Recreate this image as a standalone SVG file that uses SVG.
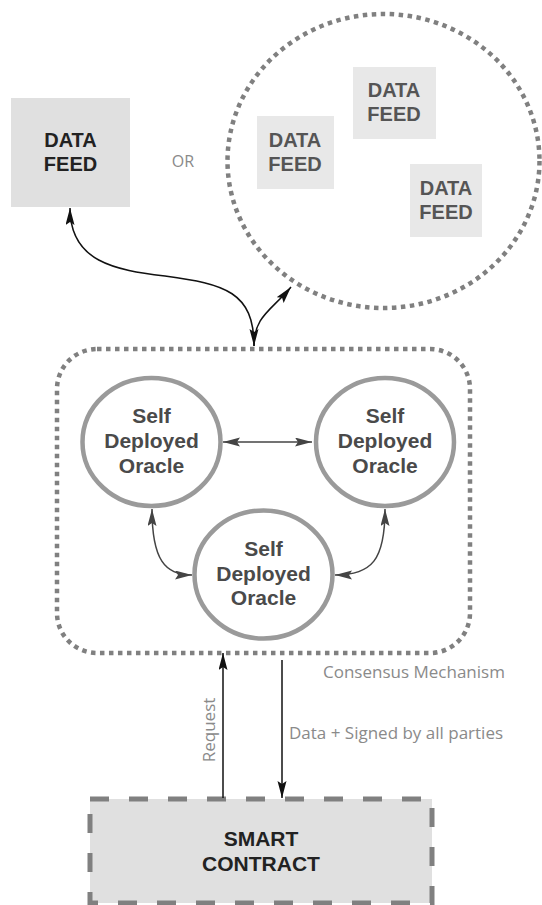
<svg xmlns="http://www.w3.org/2000/svg" width="542" height="905" viewBox="0 0 542 905">
<style>
.feed{fill:#e0e0e0}
.feedin{fill:#e8e8e8}
.bold{font-family:"Liberation Sans",Arial,sans-serif;font-weight:bold;text-anchor:middle}
.lbl{font-family:"Open Sans","Liberation Sans",sans-serif;fill:#8a8a8a;font-size:17px}
.dots{fill:none;stroke:#808080;stroke-width:4.5;stroke-dasharray:4.5 4.5}
.oracle{fill:#fff;stroke:#9a9a9a;stroke-width:4.5}
.conn{fill:none;stroke:#111;stroke-width:1.5}
.conn2{fill:none;stroke:#444;stroke-width:1.5}
</style>
<defs>
<marker id="ah" markerUnits="userSpaceOnUse" markerWidth="18" markerHeight="10" refX="17" refY="4.5" orient="auto-start-reverse">
<path d="M0,0 L17,4.5 L0,9 L3,4.5 z" fill="#111"/>
</marker>
<marker id="ah2" markerUnits="userSpaceOnUse" markerWidth="18" markerHeight="10" refX="17" refY="4.5" orient="auto-start-reverse">
<path d="M0,0 L17,4.5 L0,9 L3,4.5 z" fill="#444"/>
</marker>
</defs>
<rect width="542" height="905" fill="#fff"/>

<g id="data-feed-single">
<rect class="feed" x="11" y="98" width="119" height="109"/>
<text class="bold" x="70.5" y="147" font-size="20" fill="#222">DATA</text>
<text class="bold" x="70.5" y="171" font-size="20" fill="#222">FEED</text>
</g>

<g id="or-label">
<text x="183" y="167" font-family="Open Sans, Liberation Sans, sans-serif" font-size="16" fill="#8a8a8a" text-anchor="middle">OR</text>
</g>

<g id="data-feed-group">
<ellipse class="dots" cx="383.5" cy="161" rx="156" ry="147"/>
<g id="data-feed-1">
<rect class="feedin" x="257" y="116" width="77" height="73"/>
<text class="bold" x="295" y="147" font-size="20" fill="#555">DATA</text>
<text class="bold" x="295" y="171" font-size="20" fill="#555">FEED</text>
</g>
<g id="data-feed-2">
<rect class="feedin" x="353" y="67" width="83" height="72"/>
<text class="bold" x="394" y="97" font-size="20" fill="#555">DATA</text>
<text class="bold" x="394" y="121" font-size="20" fill="#555">FEED</text>
</g>
<g id="data-feed-3">
<rect class="feedin" x="410" y="164" width="72" height="73"/>
<text class="bold" x="446" y="195" font-size="20" fill="#555">DATA</text>
<text class="bold" x="446" y="219" font-size="20" fill="#555">FEED</text>
</g>
</g>

<g id="consensus">
<rect class="dots" x="57" y="349" width="413" height="304" rx="40" ry="40"/>
<text class="lbl" x="323" y="678">Consensus Mechanism</text>
</g>

<g id="oracle-1">
<ellipse class="oracle" cx="151.5" cy="442" rx="69" ry="64"/>
<text class="bold" x="151.5" y="423" font-size="21" fill="#4a4a4a">Self</text>
<text class="bold" x="151.5" y="448" font-size="21" fill="#4a4a4a">Deployed</text>
<text class="bold" x="151.5" y="473" font-size="21" fill="#4a4a4a">Oracle</text>
</g>
<g id="oracle-2">
<ellipse class="oracle" cx="385" cy="442" rx="69" ry="64"/>
<text class="bold" x="385" y="423" font-size="21" fill="#4a4a4a">Self</text>
<text class="bold" x="385" y="448" font-size="21" fill="#4a4a4a">Deployed</text>
<text class="bold" x="385" y="473" font-size="21" fill="#4a4a4a">Oracle</text>
</g>
<g id="oracle-3">
<ellipse class="oracle" cx="263.5" cy="574.5" rx="69" ry="64"/>
<text class="bold" x="263.5" y="556" font-size="21" fill="#4a4a4a">Self</text>
<text class="bold" x="263.5" y="581" font-size="21" fill="#4a4a4a">Deployed</text>
<text class="bold" x="263.5" y="605" font-size="21" fill="#4a4a4a">Oracle</text>
</g>

<g id="smart-contract">
<rect x="90" y="799" width="342" height="104" fill="#e0e0e0" stroke="#808080" stroke-width="5" stroke-dasharray="19 20"/>
<text class="bold" x="261" y="846" font-size="21" fill="#222">SMART</text>
<text class="bold" x="261" y="871" font-size="21" fill="#222">CONTRACT</text>
</g>

<g id="connectors">
<path class="conn" d="M70,208 C70,262 115,270 165,276 C225,284 254,292 254,346" marker-start="url(#ah)" marker-end="url(#ah)"/>
<path class="conn" d="M254,346 C254,316 272,310 291,287" marker-end="url(#ah)"/>
<path class="conn2" d="M223,442 L312,442" marker-start="url(#ah2)" marker-end="url(#ah2)"/>
<path class="conn2" d="M152,509 C152,560 165,575 192,575" marker-start="url(#ah2)" marker-end="url(#ah2)"/>
<path class="conn2" d="M385,509 C385,560 372,575 335,575" marker-start="url(#ah2)" marker-end="url(#ah2)"/>
<path class="conn" d="M223,798 L223,653" marker-end="url(#ah)"/>
<path class="conn" d="M282,660 L282,798" marker-end="url(#ah)"/>
<text class="lbl" transform="translate(215,730) rotate(-90)" text-anchor="middle">Request</text>
<text class="lbl" x="289" y="739">Data + Signed by all parties</text>
</g>
</svg>
